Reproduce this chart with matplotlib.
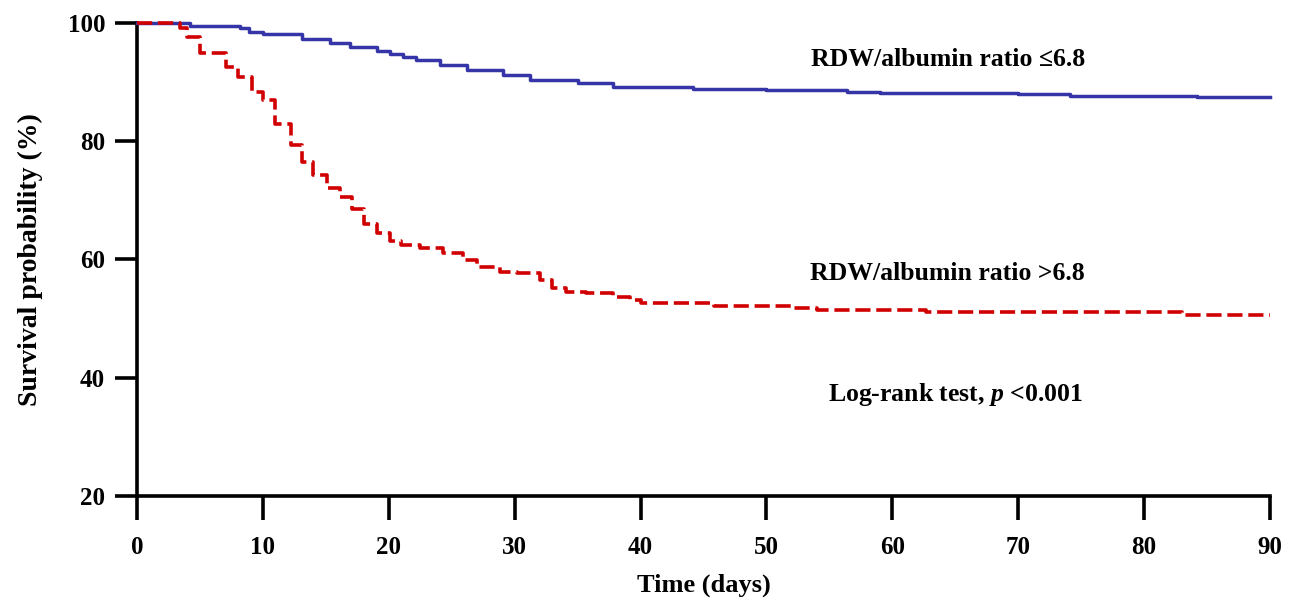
import matplotlib
matplotlib.use("Agg")
import matplotlib.pyplot as plt

# Low RDW/albumin ratio group (<=6.8)
blue_t = [0, 4.2, 8.2, 8.9, 10.0, 13.1, 15.3, 16.9, 19.1, 20.1, 21.1, 22.2,
          24.1, 26.2, 29.1, 31.2, 35.0, 37.8, 44.2, 50.0, 56.4, 59.0, 70.0,
          74.1, 84.2, 90.0]
blue_s = [100, 99.5, 99.1, 98.5, 98.1, 97.3, 96.6, 95.9, 95.3, 94.7, 94.3, 93.7,
          92.9, 92.0, 91.2, 90.4, 89.8, 89.2, 88.9, 88.6, 88.3, 88.2, 88.0,
          87.7, 87.5, 87.5]

# High RDW/albumin ratio group (>6.8)
red_t = [0, 3.4, 4.0, 5.0, 7.1, 8.0, 9.1, 10.0, 11.0, 12.2, 13.1, 14.0, 15.1,
         16.1, 17.1, 18.0, 19.1, 20.1, 21.0, 22.5, 24.3, 25.9, 27.0, 28.8, 30.2, 32.0,
         33.0, 34.1, 35.7, 37.8, 39.2, 40.0, 45.8, 52.1, 54.0, 62.7, 83.0, 90.0]
red_s = [100, 99.2, 97.6, 94.9, 92.6, 90.9, 88.3, 87.0, 83.0, 79.4, 76.5, 74.3, 72.1,
         70.6, 68.6, 66.0, 64.5, 63.2, 62.4, 62.0, 61.1, 59.9, 58.7, 57.9, 57.7,
         56.5, 55.2, 54.5, 54.3, 53.7, 53.1, 52.6, 52.1, 51.8, 51.5, 51.1, 50.6, 50.6]

x_ticks = [0, 10, 20, 30, 40, 50, 60, 70, 80, 90]
y_ticks = [20, 40, 60, 80, 100]

label_low = "RDW/albumin ratio \u22646.8"
label_high = "RDW/albumin ratio >6.8"

plt.rcParams['font.family'] = ['Liberation Serif', 'DejaVu Serif']
plt.rcParams['font.weight'] = 'bold'
plt.rcParams['mathtext.fontset'] = 'custom'
plt.rcParams['mathtext.it'] = 'Liberation Serif:italic:bold'
plt.rcParams['mathtext.rm'] = 'Liberation Serif:bold'

fig = plt.figure(figsize=(12.94, 6.03), dpi=100)
ax = fig.add_axes([137/1294, 1-496/603, (1270-137)/1294, (496-23)/603])

ax.step(blue_t, blue_s, where='post', color='#3535A8', lw=2.5, clip_on=False, zorder=3)
ax.step(red_t, red_s, where='post', color='#D10000', lw=2.6, clip_on=False, zorder=4,
        linestyle=(0, (4.2, 1.6)))

ax.set_xlim(0, 90)
ax.set_ylim(20, 100)
ax.set_xticks(x_ticks)
ax.set_yticks(y_ticks)

for s in ['top', 'right']:
    ax.spines[s].set_visible(False)
for s in ['left', 'bottom']:
    ax.spines[s].set_linewidth(2.6)

ax.tick_params(axis='x', length=17, width=2.6, pad=12, labelsize=18)
ax.tick_params(axis='y', length=16, width=2.6, pad=7, labelsize=18)
for lbl in ax.get_xticklabels() + ax.get_yticklabels():
    lbl.set_fontweight('bold')

ax.set_xlabel("Time (days)", fontsize=19, fontweight='bold', labelpad=10)
ax.set_ylabel("Survival probability (%)", fontsize=20, fontweight='bold', labelpad=18)

ax.text(64.4, 93.9, label_low, fontsize=18.5, fontweight='bold', ha='center', va='center')
ax.text(64.4, 57.7, label_high, fontsize=18.5, fontweight='bold', ha='center', va='center')
ax.text(65.0, 37.1, "Log-rank test, $p$ <0.001", fontsize=18.5,
        fontweight='bold', ha='center', va='center')

fig.savefig("out.png", dpi=100)
